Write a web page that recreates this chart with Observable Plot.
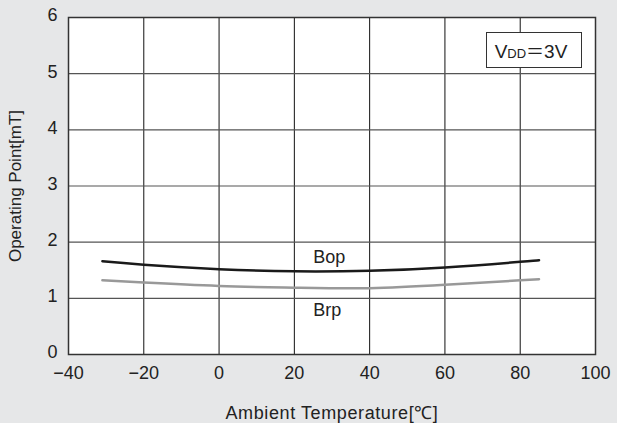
<!DOCTYPE html>
<html><head><meta charset="utf-8">
<script src="https://cdn.jsdelivr.net/npm/d3@7"></script>
<script src="https://cdn.jsdelivr.net/npm/@observablehq/plot@0.6"></script>
<style>
html,body{margin:0;padding:0;background:#e6e7e8;}
#wrap{position:relative;width:617px;height:423px;font-family:"Liberation Sans",Arial,sans-serif;}
#legend{position:absolute;left:486px;top:32px;width:96px;height:36px;border:1.3px solid #333;background:#fff;box-sizing:border-box;
font-size:19px;color:#222;display:flex;align-items:center;justify-content:center;padding-right:6px;}
#legend small{font-size:13px;}
#legend .eq{font-family:"Noto Sans CJK JP",sans-serif;font-size:18px;}
</style></head>
<body><div id="wrap"><div id="legend"><span>V<small>DD</small><span class="eq">＝</span>3V</span></div></div>
<script>
const temps = [-31, -20, 0, 20, 40, 60, 80, 85];
const bop = [1.66, 1.60, 1.52, 1.48, 1.49, 1.55, 1.65, 1.68];
const brp = [1.32, 1.28, 1.22, 1.19, 1.18, 1.24, 1.32, 1.34];
const xTicks = [-40, -20, 0, 20, 40, 60, 80, 100];
const yTicks = [0, 1, 2, 3, 4, 5, 6];
const seriesLabels = [{name: "Bop", t: 25, v: 1.73}, {name: "Brp", t: 25, v: 0.78}];

const bopData = temps.map((t, i) => ({t, v: bop[i]}));
const brpData = temps.map((t, i) => ({t, v: brp[i]}));

const chart = Plot.plot({
  width: 617, height: 423,
  marginLeft: 68, marginRight: 22, marginTop: 17, marginBottom: 69,
  style: {background: "transparent", fontFamily: "Liberation Sans, Arial, sans-serif", fontSize: "18px", color: "#222"},
  x: {domain: [-40, 100], ticks: xTicks, tickSize: 0, tickPadding: 12, tickFormat: d => d < 0 ? "\u2212" + Math.abs(d) : String(d),
      label: "Ambient Temperature[\u2103]", labelArrow: "none", labelAnchor: "center", labelOffset: 64},
  y: {domain: [0, 6], ticks: yTicks, tickSize: 0, tickPadding: 11, tickFormat: d => String(d),
      label: "Operating Point[mT]", labelArrow: "none", labelAnchor: "center", labelOffset: 60},
  marks: [
    Plot.frame({fill: "white"}),
    Plot.ruleX(xTicks.slice(1, -1), {stroke: "#111", strokeWidth: 1}),
    Plot.ruleY(yTicks.slice(1, -1), {stroke: "#555", strokeWidth: 1.2}),
    Plot.frame({stroke: "#333", strokeWidth: 1.5}),
    Plot.line(brpData, {x: "t", y: "v", stroke: "#999", strokeWidth: 2.5, curve: "natural"}),
    Plot.line(bopData, {x: "t", y: "v", stroke: "#1a1a1a", strokeWidth: 2.5, curve: "natural"}),
    Plot.text(seriesLabels, {x: "t", y: "v", text: "name", textAnchor: "start", fontSize: 18, fill: "#222"})
  ]
});
chart.querySelectorAll("g[aria-label='x-axis label'] text").forEach(t => { t.style.fontSize = "18px"; t.style.letterSpacing = "0.6px"; });
chart.querySelectorAll("g[aria-label='y-axis label'] text").forEach(t => t.style.fontSize = "17px");
chart.querySelectorAll("g[aria-label='y-axis tick label'] text").forEach(t => t.setAttribute("dy", "-0.1em"));
document.getElementById("wrap").prepend(chart);
</script></body></html>
